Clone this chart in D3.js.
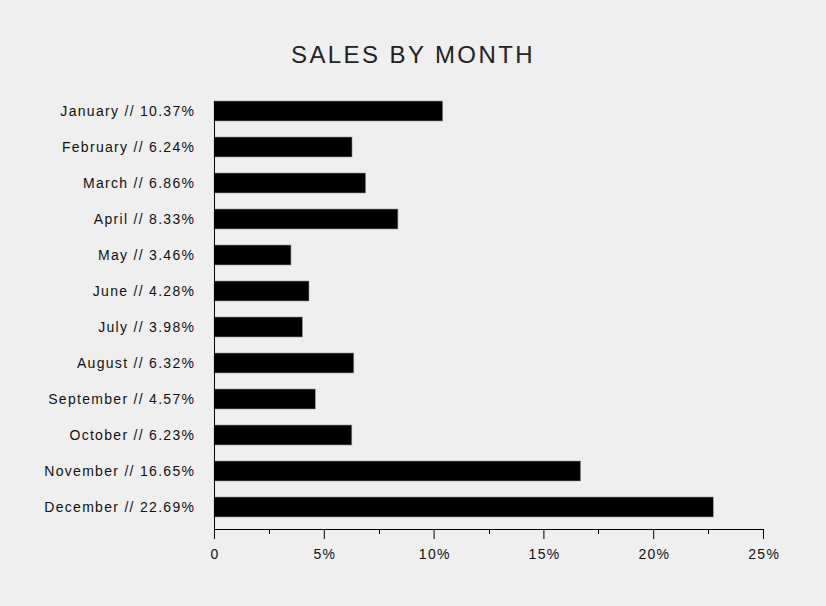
<!DOCTYPE html>
<html>
<head>
<meta charset="utf-8">
<script src="https://cdn.jsdelivr.net/npm/d3@7"></script>
<style>
  body { margin: 0; background: #efefef; }
  svg { display: block; font-family: "Liberation Sans", Arial, sans-serif; }
  .lbl { font-size: 14px; letter-spacing: 1.3px; fill: #111; }
</style>
</head>
<body>
<div class="svg_container"></div>
<script>
var months = ["January", "February", "March", "April", "May", "June", "July",
              "August", "September", "October", "November", "December"];
var shares = [10.37, 6.24, 6.86, 8.33, 3.46, 4.28, 3.98, 6.32, 4.57, 6.23, 16.65, 22.69];
var majorTicks = [0, 5, 10, 15, 20, 25];
var minorTicks = [2.5, 7.5, 12.5, 17.5, 22.5];

const WIDTH = 826;
const HEIGHT = 606;
const LEFT = 214;
const RIGHT = 763;
const AXIS_Y = 529;

var translate = function (x, y) {
  return "translate(" + x + "," + y + ")";
};

var _xScale = d3.scaleLinear()
  .domain([0, 25])
  .range([LEFT, RIGHT]);

var _yScale = d3.scaleBand()
  .domain(months)
  .range([93, 525])
  .paddingInner(16 / 36)
  .paddingOuter(8 / 36);

var svg = d3.select('.svg_container').append('svg')
  .attr('width', WIDTH)
  .attr('height', HEIGHT);

svg.append('rect')
  .attr('width', WIDTH).attr('height', HEIGHT)
  .attr('fill', '#efefef');

svg.append('text')
  .attr('x', 413).attr('y', 63)
  .attr('text-anchor', 'middle')
  .style('font-size', '24px')
  .style('letter-spacing', '2.4px')
  .attr('fill', '#222')
  .text('SALES BY MONTH');

// bars
svg.append('g').selectAll('rect')
  .data(months)
  .enter().append('rect')
  .attr('x', _xScale(0))
  .attr('y', function (d) { return _yScale(d); })
  .attr('width', function (d, i) { return _xScale(shares[i]) - _xScale(0) + 1; })
  .attr('height', _yScale.bandwidth())
  .attr('fill', '#000')
  .attr('stroke', '#999')
  .attr('stroke-width', 0.6);

// month labels
svg.append('g').selectAll('text')
  .data(months)
  .enter().append('text')
  .attr('class', 'lbl')
  .attr('x', 195.3)
  .attr('y', function (d) { return _yScale(d) + _yScale.bandwidth() / 2; })
  .attr('dy', '0.35em')
  .attr('text-anchor', 'end')
  .text(function (d, i) { return d + ' // ' + shares[i].toFixed(2) + '%'; });

// left axis line
svg.append('line')
  .attr('x1', LEFT + 0.5).attr('x2', LEFT + 0.5)
  .attr('y1', _yScale(months[0])).attr('y2', AXIS_Y)
  .attr('stroke', '#000');

// bottom axis
var xAxis = d3.axisBottom(_xScale)
  .tickValues(majorTicks)
  .tickSize(10)
  .tickPadding(10)
  .tickFormat(function (d) { return d === 0 ? '0' : d + '%'; });

var gx = svg.append('g')
  .attr('transform', translate(0, AXIS_Y))
  .call(xAxis);
gx.select('.domain').attr('d', 'M' + LEFT + ',0.5H' + (RIGHT + 0.5));
gx.selectAll('text')
  .attr('class', 'lbl')
  .attr('dx', '0.65px')
  .style('font-family', '"Liberation Sans", Arial, sans-serif')
  .attr('fill', '#111');

svg.append('g').selectAll('line')
  .data(minorTicks)
  .enter().append('line')
  .attr('x1', function (d) { return Math.round(_xScale(d)) + 0.5; })
  .attr('x2', function (d) { return Math.round(_xScale(d)) + 0.5; })
  .attr('y1', AXIS_Y).attr('y2', AXIS_Y + 5)
  .attr('stroke', '#000');
</script>
</body>
</html>
